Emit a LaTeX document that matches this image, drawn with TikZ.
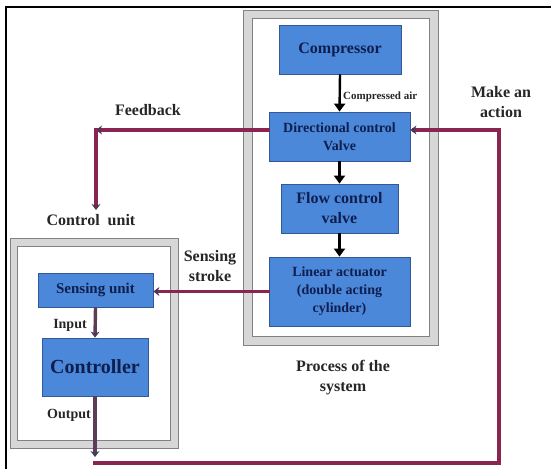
\documentclass[tikz,border=0pt]{standalone}
\usepackage{fontspec}
\setmainfont{LiberationSerif}[Extension=.ttf, UprightFont=*-Regular, BoldFont=*-Bold]
\usetikzlibrary{arrows.meta}
\definecolor{boxfill}{RGB}{76,136,218}
\definecolor{boxline}{RGB}{52,88,150}
\definecolor{boxtext}{RGB}{14,30,78}
\definecolor{sigcol}{RGB}{138,36,80}
\definecolor{edgecol}{RGB}{70,58,88}
\definecolor{incol}{RGB}{92,60,86}
\definecolor{bandfill}{RGB}{215,215,215}
\definecolor{bandline}{RGB}{130,130,130}
\begin{document}
\begin{tikzpicture}[x=1pt,y=-1pt,
  box/.style={draw=boxline, line width=0.8pt, fill=boxfill, text=boxtext, font=\bfseries, align=center, inner sep=0pt},
  lbl/.style={text=black!85, font=\bfseries\fontsize{16}{20}\selectfont, align=center, inner sep=0pt},
  slbl/.style={text=black!85, font=\bfseries\fontsize{14}{17}\selectfont, align=center, inner sep=0pt},
  flow/.style={draw=black, line width=2.4pt, -{Triangle[length=8pt,width=11pt]}},
  sig/.style={draw=sigcol, line width=3.6pt, line cap=rect, -{Stealth[length=6pt,width=9pt,color=edgecol]}},
  band/.style={draw=bandline, line width=1pt, fill=bandfill},
  bandin/.style={draw=bandline, line width=1pt, fill=white}
]
\useasboundingbox (0,0) rectangle (551,469);
% outer black frame
\draw[line width=2pt] (6,469) -- (6,7) -- (551,7);

% process frame
\draw[band] (243,10) rectangle (438,345);
\draw[bandin] (252,18) rectangle (429,336);
% control frame
\draw[band] (10,238) rectangle (178,448);
\draw[bandin] (17,246) rectangle (170,440);

% boxes
\node[box, minimum width=122pt, minimum height=49pt, font=\bfseries\fontsize{16}{18}\selectfont] (comp) at (340,49.5) {Compressor};
\node[box, minimum width=141pt, minimum height=49pt, font=\bfseries\fontsize{14}{18}\selectfont] (dcv) at (339.5,136.5) {Directional control\\Valve};
\node[box, minimum width=117pt, minimum height=49pt, font=\bfseries\fontsize{16}{20}\selectfont] (fcv) at (339.5,208.5) {Flow control\\valve};
\node[box, minimum width=141pt, minimum height=69pt, font=\bfseries\fontsize{14}{18}\selectfont] (la) at (339.5,291.5) {Linear actuator\\(double acting\\cylinder)};
\node[box, minimum width=115pt, minimum height=34pt, font=\bfseries\fontsize{15}{18}\selectfont] (sens) at (95.5,290) {Sensing unit};
\node[box, minimum width=106pt, minimum height=58pt, font=\bfseries\fontsize{20}{24}\selectfont] (ctrl) at (95,367) {Controller};

% process flow arrows
\draw[flow] (comp.south) -- (dcv.north);
\draw[flow] (dcv.south) -- (fcv.north);
\draw[flow] (fcv.south) -- (la.north);

% coordinates for signal lines
\coordinate (fbc) at (96,130);
\coordinate (cuin) at (96,210);
\coordinate (outtip) at (95,457);
\coordinate (bl) at (95,463);
\coordinate (br) at (499,463);
\coordinate (tr) at (499,130);

% feedback
\draw[sig] (dcv.west |- fbc) -- (fbc);
\draw[sig] (fbc) -- (cuin);
% sensing stroke
\draw[sig] (la.west) -- (la.west -| sens.east);
% input
\draw[draw=incol, line width=3.4pt, -{Stealth[length=6pt,width=9pt,color=edgecol]}] (sens.south) -- (ctrl.north);
% output loop
\draw[draw=incol, line width=3.4pt, -{Stealth[length=6pt,width=9pt,color=edgecol]}] (ctrl.south) -- (outtip);
\draw[sig, line join=miter] (bl) -- (br) -- (tr) -- (dcv.east |- tr);

% labels
\node[anchor=west, text=black!85, font=\bfseries\fontsize{11}{13}\selectfont, inner sep=0pt] (cair) at (343,97) {Compressed air};
\node[lbl] (fb) at (148,110) {Feedback};
\node[lbl] (act) at (501,102) {Make an\\action};
\node[lbl] (cu) at (91,220) {Control\ \ unit};
\node[lbl] (ss) at (210,266) {Sensing\\stroke};
\node[slbl] (inp) at (70,325) {Input};
\node[slbl] (outp) at (69,415) {Output};
\node[lbl] (pos) at (343,378) {Process of the\\system};
\end{tikzpicture}
\end{document}
